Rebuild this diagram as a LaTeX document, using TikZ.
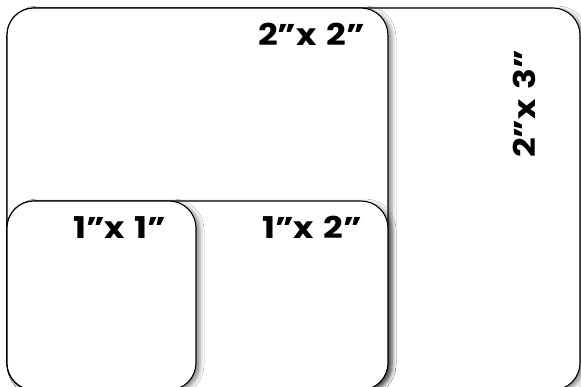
\documentclass[tikz,border=0pt]{standalone}
\usepackage{fontspec}
\newfontfamily\labelfont{Poppins}[UprightFont=* Bold, FakeStretch=1.15, WordSpace=1.3]
\usetikzlibrary{shadows.blur}
\tikzset{
  card/.style={draw=black, line width=1.1pt, fill=white, rounded corners=27pt,
    blur shadow={shadow xshift=4pt, shadow yshift=-2pt, shadow blur radius=4pt, shadow opacity=45}},
  lbl/.style={font=\labelfont\fontsize{30}{30}\selectfont, inner sep=0pt, anchor=base west}
}
\begin{document}
\begin{tikzpicture}[x=1pt,y=-1pt]
\useasboundingbox (0,0) rectangle (581,387);
\fill[white] (0,0) rectangle (581,387);
\draw[card] (7,8) rectangle (580,390);
\draw[card] (7,8) rectangle (388,390);
\draw[card] (7,201) rectangle (388,390);
\draw[card] (7,201) rectangle (196,390);
\node[lbl] (l22) at (258,46) {2”x 2”};
\node[lbl] (l12) at (262,239) {1”x 2”};
\node[lbl] (l11) at (73,239) {1”x 1”};
\node[lbl, rotate=90] (l23) at (535,158) {2”x 3”};
\end{tikzpicture}
\end{document}
